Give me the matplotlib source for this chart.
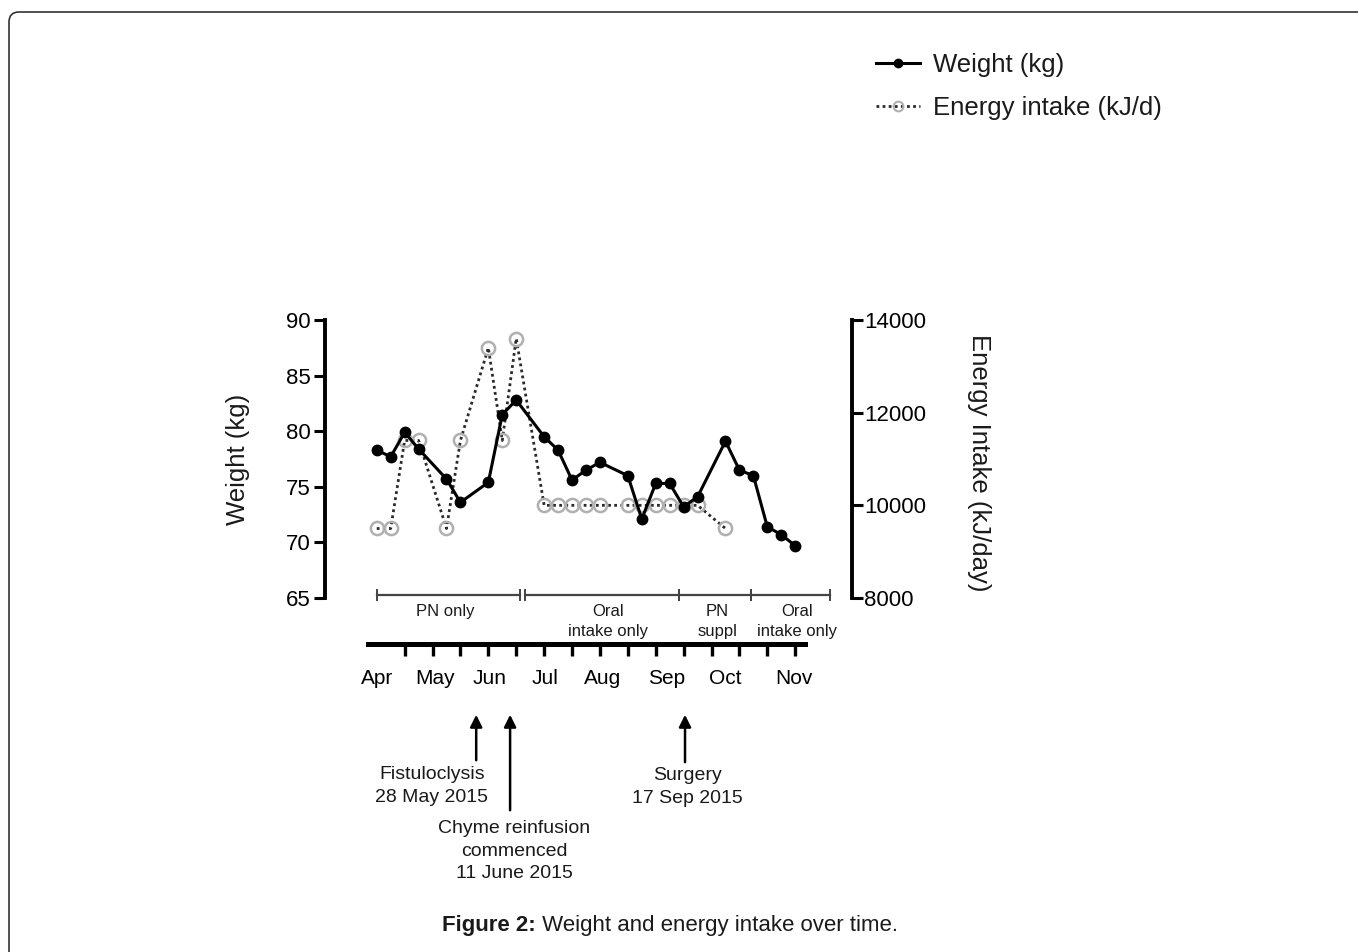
import numpy as np
import matplotlib
matplotlib.use('Agg')
import matplotlib.pyplot as plt
from matplotlib.patches import FancyBboxPatch
from matplotlib.lines import Line2D
import matplotlib.transforms as mtransforms

plt.rcParams['font.family'] = ['Liberation Sans', 'DejaVu Sans']
plt.rcParams['text.color'] = '#1a1a1a'

# data (x in weeks from start of April)
weeks_w = [0, 1, 2, 3, 5, 6, 8, 9, 10, 12, 13, 14, 15, 16, 18, 19, 20, 21, 22, 23, 25, 26, 27, 28, 29, 30]
weight = [78.3, 77.7, 79.9, 78.4, 75.7, 73.6, 75.4, 81.5, 82.8, 79.5, 78.3, 75.6, 76.5, 77.2,
          76.0, 72.1, 75.3, 75.3, 73.2, 74.1, 79.1, 76.5, 76.0, 71.4, 70.7, 69.7]
weeks_e = [0, 1, 2, 3, 5, 6, 8, 9, 10, 12, 13, 14, 15, 16, 18, 19, 20, 21, 22, 23, 25]
energy = [9500, 9500, 11400, 11400, 9500, 11400, 13400, 11400, 13600, 10000, 10000, 10000, 10000,
          10000, 10000, 10000, 10000, 10000, 10000, 10000, 9500]

months = ['Apr', 'May', 'Jun', 'Jul', 'Aug', 'Sep', 'Oct', 'Nov']
month_pos = [0, 4.2, 8.1, 12.1, 16.2, 20.8, 25.0, 29.9]

phase_labels = ['PN only', 'Oral\nintake only', 'PN\nsuppl', 'Oral\nintake only']
phase_start = [0, 10.6, 21.7, 26.8]
phase_end = [10.3, 21.7, 26.8, 32.5]
phase_mid = [4.9, 16.6, 24.4, 30.1]

events = ['Fistuloclysis\n28 May 2015', 'Chyme reinfusion\ncommenced\n11 June 2015', 'Surgery\n17 Sep 2015']
event_x = [7.13, 9.56, 22.1]
event_tail = [763, 813, 765]      # arrow tail, px from top
event_text_x = [3.96, 9.85, 22.3]
event_text_y = [786, 851, 787]

W, H = 1358, 952
fig = plt.figure(figsize=(W / 100, H / 100), dpi=100)
ax = fig.add_axes([325 / W, 1 - 598 / H, (851.7 - 325) / W, (598 - 320) / H])
ax2 = ax.twinx()
ax.set_zorder(ax2.get_zorder() + 1)
ax.patch.set_visible(False)

# energy on right axis
ax2.plot(weeks_e, energy, linestyle=(0, (1, 1.2)), color='#2a2a2a', lw=2.0,
         marker='o', ms=9.5, mfc='none', mec='#b0b0b0', mew=1.8, label='Energy intake (kJ/d)')
ax2.set_ylim(8000, 14000)
ax2.set_yticks([8000, 10000, 12000, 14000])
for s in ['top', 'bottom', 'left']:
    ax2.spines[s].set_visible(False)
ax2.spines['right'].set_linewidth(2.8)
ax2.tick_params(axis='y', length=8, width=2.2, labelsize=16, pad=1)

# weight on left axis
ax.plot(weeks_w, weight, color='black', lw=2.2, marker='o', ms=7.5, label='Weight (kg)')
ax.set_ylim(65, 90)
ax.set_yticks([65, 70, 75, 80, 85, 90])
ax.set_xlim(-3.71, 34.05)
for s in ['top', 'right']:
    ax.spines[s].set_visible(False)
ax.spines['left'].set_linewidth(2.8)
ax.tick_params(axis='y', length=8, width=2.2, labelsize=16, pad=2)

# separate time axis below
ax.spines['bottom'].set_position(('outward', 33))
ax.spines['bottom'].set_bounds(-0.6, 30.7)
ax.spines['bottom'].set_linewidth(3.6)
ax.set_xticks(np.arange(0, 31, 2), minor=True)
ax.set_xticks(month_pos)
ax.set_xticklabels(months)
ax.tick_params(axis='x', which='major', length=0, pad=18, labelsize=15)
ax.tick_params(axis='x', which='minor', length=8.5, width=2.4, direction='out')

# phase bars
bar_y = 65.27
for a, b in zip(phase_start, phase_end):
    ax.plot([a, b], [bar_y, bar_y], color='#444444', lw=1.6, marker='|', ms=9, mew=1.4,
            clip_on=False)
for m, lab in zip(phase_mid, phase_labels):
    ax.text(m, 64.45, lab, ha='center', va='top', fontsize=12, linespacing=1.4,
            multialignment='center', clip_on=False)

# axis titles
fig.text(238 / W, 1 - 459 / H, 'Weight (kg)', rotation=90, ha='center', va='center', fontsize=18.5)
fig.text(979 / W, 1 - 463 / H, 'Energy Intake (kJ/day)', rotation=270, ha='center', va='center',
         fontsize=18.5)

# event arrows
trans = mtransforms.blended_transform_factory(ax.transData, fig.transFigure)
for x, tail in zip(event_x, event_tail):
    ax.annotate('', xy=(x, 1 - 712 / H), xytext=(x, 1 - tail / H), xycoords=trans, textcoords=trans,
                arrowprops=dict(arrowstyle='-|>', color='black', lw=1.8, mutation_scale=18),
                annotation_clip=False)
for tx, ty, lab in zip(event_text_x, event_text_y, events):
    ax.text(tx, 1 - ty / H, lab, transform=trans, ha='center', va='center', fontsize=14,
            linespacing=1.4, multialignment='center', clip_on=False)

# legend
handles = [Line2D([], [], color='black', lw=2.2, marker='o', ms=6),
           Line2D([], [], linestyle=(0, (1, 1.2)), color='#2a2a2a', lw=2.0, marker='o', ms=7,
                  mfc='none', mec='#b0b0b0', mew=1.5)]
fig.legend(handles, ['Weight (kg)', 'Energy intake (kJ/d)'], loc='upper left',
           bbox_to_anchor=(876 / W, 1 - 53 / H), frameon=False, fontsize=18.5,
           handlelength=1.7, handletextpad=0.5, labelspacing=0.75, borderpad=0, borderaxespad=0)

# caption
t_bold = fig.text(442 / W, 1 - 926 / H, 'Figure 2:', fontsize=16, fontweight='bold',
                  ha='left', va='center')
ax.annotate(' Weight and energy intake over time.', xy=(1, 0.5), xycoords=t_bold,
            ha='left', va='center', fontsize=16)

# frame
frame = FancyBboxPatch((9, -30), W + 60, H - 12 + 30, boxstyle='round,pad=0,rounding_size=10',
                       transform=mtransforms.IdentityTransform(), fill=False,
                       edgecolor='#333333', lw=1.2)
fig.add_artist(frame)

fig.savefig('out.png', dpi=100)
